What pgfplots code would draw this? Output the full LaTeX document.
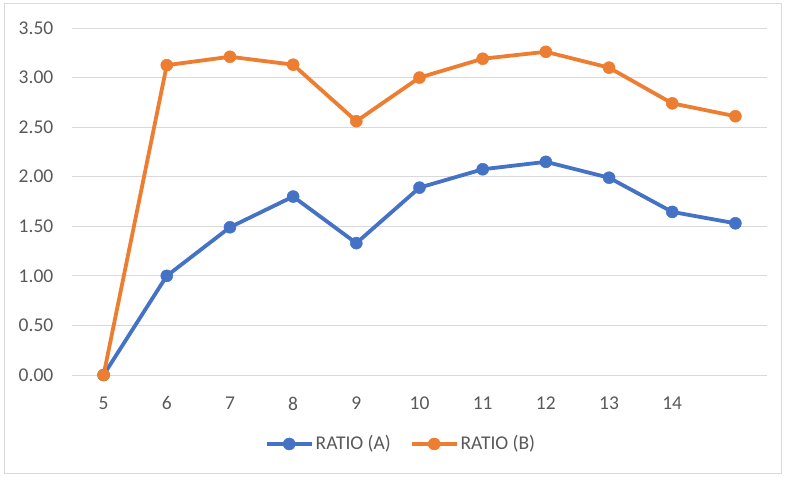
\documentclass[border=0pt]{standalone}
\usepackage{pgfplots}
\pgfplotsset{compat=1.18}
\usepackage{fontspec}
\setmainfont{Carlito}
\definecolor{cA}{HTML}{4472C4}
\definecolor{cB}{HTML}{ED7D31}
\definecolor{gridc}{HTML}{D9D9D9}
\definecolor{txt}{HTML}{595959}
\begin{document}
\fontsize{19.5bp}{23bp}\selectfont
\begin{tikzpicture}
\path (-72bp,-102bp) rectangle (714bp,375bp);
\draw[gridc, line width=1bp] (-67bp,-98bp) rectangle (709bp,371bp);
\begin{axis}[at={(0,0)}, anchor=south west, scale only axis, width=695bp, height=347bp,
  xmin=4.5, xmax=15.5, ymin=0, ymax=3.5,
  ytick={0,0.5,1,1.5,2,2.5,3,3.5}, xtick={5,6,7,8,9,10,11,12,13,14},
  axis line style={draw=none}, major tick length=0pt,
  ymajorgrids, grid style={gridc, line width=1bp},
  clip=false,
  /pgf/number format/assume math mode=true,
  y tick label style={/pgf/number format/fixed, /pgf/number format/fixed zerofill, /pgf/number format/precision=2},
  ticklabel style={font=\fontsize{19.5bp}{23bp}\selectfont, text=txt},
  xticklabel style={yshift=-15bp},
  yticklabel style={xshift=-12bp},
  legend style={at={(0.4734,-0.1988)}, anchor=center, draw=none, legend columns=2,
    font=\fontsize{19.5bp}{23bp}\selectfont, text=txt, nodes={inner sep=2bp},
    /tikz/every even column/.append style={column sep=17bp}},
  legend image code/.code={\draw[mark repeat=2,mark phase=2,#1] plot coordinates {(0bp,0bp) (22.5bp,0bp) (45bp,0bp)};},
]
\addplot[cA, line width=3.8bp, mark=*, mark size=6bp, mark options={solid, fill=cA, draw=cA, line width=0.5bp}] coordinates {
(5,0) (6,1.00) (7,1.49) (8,1.80) (9,1.33) (10,1.89) (11,2.075) (12,2.15) (13,1.99) (14,1.645) (15,1.53)};
\addlegendentry{RATIO (A)}
\addplot[cB, line width=3.8bp, mark=*, mark size=6bp, mark options={solid, fill=cB, draw=cB, line width=0.5bp}] coordinates {
(5,0) (6,3.125) (7,3.21) (8,3.13) (9,2.56) (10,3.00) (11,3.19) (12,3.26) (13,3.10) (14,2.74) (15,2.61)};
\addlegendentry{RATIO (B)}
\end{axis}
\end{tikzpicture}
\end{document}
